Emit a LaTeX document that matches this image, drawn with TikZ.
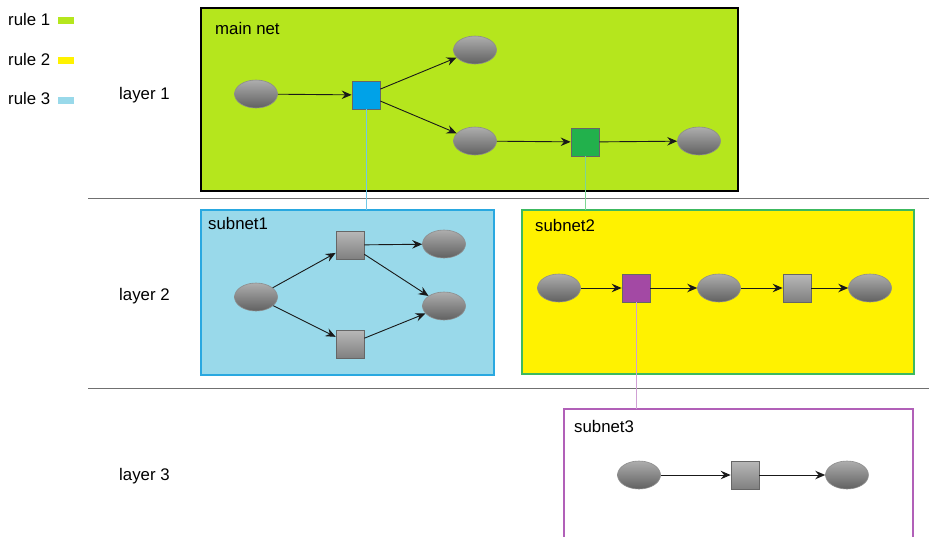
\documentclass[tikz,border=0pt]{standalone}
\usepackage{fontspec}
\setmainfont{Liberation Sans}
\usetikzlibrary{arrows.meta,shapes.geometric}

\definecolor{limefill}{HTML}{B5E61D}
\definecolor{yellowfill}{HTML}{FFF200}
\definecolor{skyfill}{HTML}{99D9EA}
\definecolor{bluesq}{HTML}{00A2E8}
\definecolor{greensq}{HTML}{22B14C}
\definecolor{purplesq}{HTML}{A349A4}
\definecolor{subAborder}{HTML}{29A8E0}
\definecolor{subBborder}{HTML}{3CB960}
\definecolor{subCborder}{HTML}{B160B8}
\definecolor{linkA}{HTML}{70C8E8}
\definecolor{linkB}{HTML}{7ED693}
\definecolor{linkC}{HTML}{CFA0D4}
\definecolor{layerline}{HTML}{707070}

\begin{document}
\begin{tikzpicture}[x=1pt,y=-1pt,
  every node/.style={font=\fontsize{16.8}{20}\selectfont},
  place/.style={ellipse, minimum width=43pt, minimum height=28pt, inner sep=0pt,
    top color=black!32, bottom color=black!62, draw=black!45, line width=0.6pt},
  trans/.style={rectangle, minimum size=28pt, inner sep=0pt, draw=black!60, line width=0.7pt},
  graytrans/.style={trans, top color=black!28, bottom color=black!50},
  arc/.style={draw=black!90, line width=0.9pt, -{Stealth[length=10pt,width=8.5pt,inset=3.5pt]}},
  netbox/.style={line width=1.6pt},
  label/.style={anchor=base west, inner sep=0pt},
  swatch/.style={inner sep=0pt, minimum width=16pt, minimum height=7pt, anchor=south west}]
\useasboundingbox (0,0) rectangle (929,536);

% legend
\node[label] (r1) at (8,25) {rule 1};
\node[swatch, fill=limefill] (s1) at (58,24) {};
\node[label] (r2) at (8,65) {rule 2};
\node[swatch, fill=yellowfill] (s2) at (58,64) {};
\node[label] (r3) at (8,104) {rule 3};
\node[swatch, fill=skyfill] (s3) at (58,104) {};

% layer labels and separators
\node[label] (l1) at (119,99) {layer 1};
\node[label] (l2) at (119,300) {layer 2};
\node[label] (l3) at (119,480) {layer 3};
\coordinate (sepAa) at (88,198); \coordinate (sepAb) at (929,198);
\coordinate (sepBa) at (88,388); \coordinate (sepBb) at (929,388);
\draw[layerline, line width=1pt] (sepAa) -- (sepAb);
\draw[layerline, line width=1pt] (sepBa) -- (sepBb);

% containers
\draw[netbox, draw=black, fill=limefill] (201,8) rectangle (738,191);
\node[label] (mainlbl) at (215,34) {main net};
\draw[netbox, draw=subAborder, fill=skyfill] (201,210) rectangle (494,375);
\node[label] (subAlbl) at (208,229) {subnet1};
\draw[netbox, draw=subBborder, fill=yellowfill] (522,210) rectangle (914,374);
\node[label] (subBlbl) at (535,231) {subnet2};
\draw[netbox, draw=subCborder] (564,540) -- (564,409) -- (913,409) -- (913,540);
\node[label] (subClbl) at (574,432) {subnet3};

% main net
\node[place] (m1) at (256,94) {};
\node[trans, fill=bluesq] (mt1) at (366,95) {};
\node[place] (m2) at (475,50) {};
\node[place] (m3) at (475,141) {};
\node[trans, fill=greensq] (mt2) at (585,142) {};
\node[place] (m4) at (699,141) {};
\draw[arc] (m1) -- (mt1);
\draw[arc] (mt1) -- (m2);
\draw[arc] (mt1) -- (m3);
\draw[arc] (m3) -- (mt2);
\draw[arc] (mt2) -- (m4);

% subnet1
\node[place] (a1) at (256,297) {};
\node[graytrans] (at1) at (350,245) {};
\node[graytrans] (at2) at (350,344) {};
\node[place] (a2) at (444,244) {};
\node[place] (a3) at (444,306) {};
\draw[arc] (a1) -- (at1);
\draw[arc] (a1) -- (at2);
\draw[arc] (at1) -- (a2);
\draw[arc] (at1) -- (a3);
\draw[arc] (at2) -- (a3);

% subnet2
\node[place] (b1) at (559,288) {};
\node[trans, fill=purplesq] (bt1) at (636,288) {};
\node[place] (b2) at (719,288) {};
\node[graytrans] (bt2) at (797,288) {};
\node[place] (b3) at (870,288) {};
\draw[arc] (b1) -- (bt1);
\draw[arc] (bt1) -- (b2);
\draw[arc] (b2) -- (bt2);
\draw[arc] (bt2) -- (b3);

% subnet3
\node[place] (c1) at (639,475) {};
\node[graytrans] (ct1) at (745,475) {};
\node[place] (c2) at (847,475) {};
\draw[arc] (c1) -- (ct1);
\draw[arc] (ct1) -- (c2);

% refinement links between layers
\coordinate (subAtop) at (366,210);
\coordinate (subBtop) at (585,210);
\coordinate (subCtop) at (636,409);
\draw[linkA, line width=1pt] (mt1.south) -- (subAtop);
\draw[linkB, line width=1pt] (mt2.south) -- (subBtop);
\draw[linkC, line width=1pt] (bt1.south) -- (subCtop);
\end{tikzpicture}
\end{document}
